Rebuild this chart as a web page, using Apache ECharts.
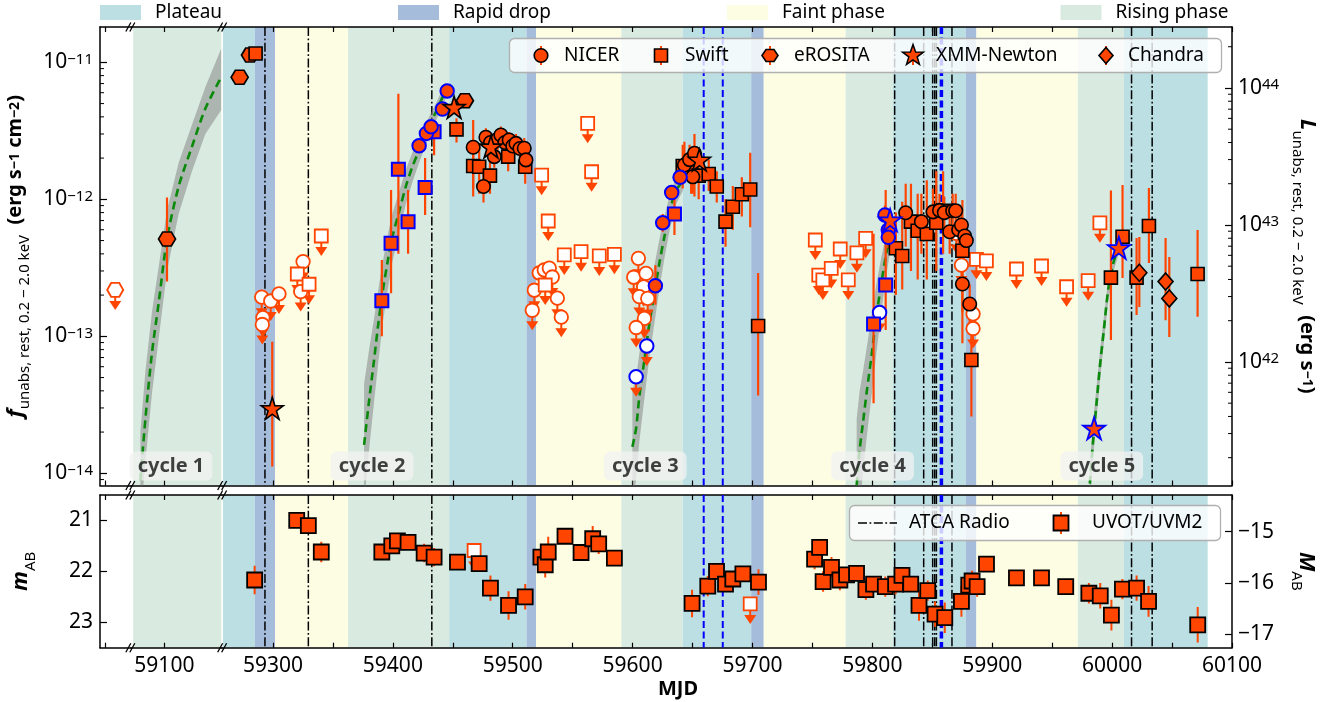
<!DOCTYPE html>
<html><head><meta charset="utf-8">
<script src="https://cdn.jsdelivr.net/npm/echarts@6.0.0/dist/echarts.min.js"></script>
<style>html,body{margin:0;padding:0;background:#fff}#c{width:1344px;height:702px}</style>
</head><body><div id="c"></div><script>
// ---------------- DATA ----------------
const phaseStart = [59074.0, 59257.6, 59285.0, 59301.7, 59362.6, 59447.0, 59511.5, 59519.4, 59590.6, 59641.8, 59698.9, 59709.4, 59777.7, 59817.2, 59877.9, 59886.8, 59971.4, 60009.8];
const phaseEnd   = [59148.2, 59285.0, 59301.7, 59362.6, 59447.0, 59511.5, 59519.4, 59590.6, 59641.8, 59698.9, 59709.4, 59777.7, 59817.2, 59877.9, 59886.8, 59971.4, 60009.8, 60079.7];
const phaseType  = ['rising','plateau','drop','faint','rising','plateau','drop','faint','rising','plateau','drop','faint','rising','plateau','drop','faint','rising','plateau'];
const phaseNames = ['Plateau','Rapid drop','Faint phase','Rising phase'];
const atcaMJD = [59293.3, 59329.5, 59432.5, 59818.6, 59842.8, 59850.3, 59852.0, 59853.4, 59866.4, 60016.2, 60033.4];
const blueDashMJD = [59659.3, 59675.2];
const blueThickMJD = [59857.6];
const xTickValues = [58900, 59100, 59300, 59350, 59400, 59450, 59500, 59550, 59600, 59650, 59700, 59750, 59800, 59850, 59900, 59950, 60000, 60050, 60100];
const xLabelValues = [59100, 59300, 59400, 59500, 59600, 59700, 59800, 59900, 60000, 60100];
const magTicks = [21, 22, 23];
const absMagTicks = [-17, -16, -15];
const nicerDet = [
 [59467.0,2.40e-12,1.05e-12,3.8e-12],[59475.6,1.24e-12,0.95e-12,1.6e-12],[59477.6,2.84e-12,2.4e-12,3.3e-12],
 [59481.5,2.6e-12,2.2e-12,3.0e-12],[59484.6,2.05e-12,1.7e-12,2.5e-12],[59487.5,2.75e-12,2.3e-12,3.2e-12],
 [59490.1,2.95e-12,2.5e-12,3.4e-12],[59493.5,2.6e-12,2.2e-12,3.0e-12],[59497.0,2.71e-12,2.3e-12,3.1e-12],
 [59500.0,2.45e-12,2.1e-12,2.85e-12],[59502.7,2.56e-12,2.2e-12,3.0e-12],[59506.0,2.35e-12,2.0e-12,2.75e-12],
 [59509.6,2.36e-12,2.0e-12,2.8e-12],[59511.0,1.94e-12,1.6e-12,2.3e-12],
 [59643.2,1.78e-12,1.31e-12,2.63e-12],[59647.5,1.95e-12,1.5e-12,2.5e-12],[59650.2,1.46e-12,1.1e-12,1.9e-12],[59651.6,2.17e-12,1.05e-12,3.0e-12],
 [59827.8,7.98e-13,4.5e-13,1.3e-12],[59840.9,6.87e-13,4e-13,1.1e-12],[59850.6,8.1e-13,5e-13,1.2e-12],[59856.0,8.3e-13,6e-13,1.1e-12],
 [59860.0,8.0e-13,6e-13,1.05e-12],[59864.5,5.8e-13,4e-13,8e-13],[59867.0,8.26e-13,6e-13,1.1e-12],[59869.5,8.26e-13,6e-13,1.1e-12],
 [59872.0,6.0e-13,4.5e-13,8e-13],[59874.3,6.49e-13,5e-13,8.5e-13],[59877.0,5.4e-13,4e-13,7e-13],[59878.4,5.0e-13,3.8e-13,6.5e-13],
 [59875.1,2.41e-13,1.5e-13,3.5e-13],[59881.2,1.72e-13,1.1e-13,2.4e-13]
];
const nicerRise = [
 [59421.9,2.46e-12,2.2e-12,2.7e-12],[59428.0,3.03e-12,2.7e-12,3.4e-12],[59431.9,3.39e-12,3.0e-12,3.8e-12],[59441.4,4.56e-12,4.1e-12,5.0e-12],[59445.3,6.18e-12,5.6e-12,6.8e-12],
 [59619.0,2.34e-13,1.7e-13,3.3e-13],[59625.1,6.74e-13,5.8e-13,7.8e-13],[59632.6,1.12e-12,1.0e-12,1.25e-12],[59639.6,1.45e-12,1.3e-12,1.6e-12],
 [59810.5,7.67e-13,6.5e-13,9e-13],[59813.3,5.97e-13,5e-13,7e-13],[59813.3,5.28e-13,4.4e-13,6.3e-13]
];
const nicerUL = [
 [59290.6,1.93e-13],[59291.6,1.37e-13],[59291.1,1.22e-13],[59298.1,1.81e-13],[59305.0,2.04e-13],[59325.1,3.51e-13],[59323.1,2.12e-13],
 [59516.3,1.55e-13],[59518.0,2.17e-13],[59522.1,2.9e-13],[59526.3,3.05e-13],[59530.5,3.15e-13],[59533.0,2.71e-13],[59537.2,1.9e-13],[59540.5,1.38e-13],
 [59604.8,3.71e-13],[59600.9,2.7e-13],[59611.2,2.88e-13],[59609.2,2.3e-13],[59605.6,1.95e-13],[59612.6,1.89e-13],[59609.8,1.35e-13],[59603.0,1.16e-13],
 [59870.0,5.64e-13],[59874.3,3.31e-13],[59884.0,1.46e-13],[59884.0,1.14e-13]
];
const nicerULRise = [[59602.9,5.07e-14],[59611.8,8.49e-14],[59806.0,1.49e-13]];
const swiftDet = [
 [59285.5,1.16e-11,1.1e-11,1.22e-11],
 [59453.1,3.24e-12,2.6e-12,3.9e-12],[59467.0,1.75e-12,1.2e-12,2.3e-12],[59472.0,1.73e-12,1.1e-12,2.5e-12],[59481.0,1.49e-12,1.1e-12,2.0e-12],[59496.2,2.05e-12,1.6e-12,2.6e-12],[59510.4,1.73e-12,1.3e-12,2.3e-12],
 [59641.8,1.75e-12,1.2e-12,2.5e-12],[59648.8,1.59e-12,1.1e-12,2.3e-12],[59655.1,1.49e-12,1.0e-12,2.1e-12],[59663.5,1.53e-12,1.15e-12,1.95e-12],[59670.2,1.24e-12,0.95e-12,1.6e-12],
 [59677.5,6.87e-13,4.5e-13,1.0e-12],[59683.6,8.83e-13,6e-13,1.25e-12],[59691.1,1.09e-12,7.5e-13,1.45e-12],[59698.1,1.18e-12,6.25e-13,2.19e-12],[59704.7,1.19e-13,3.7e-14,2.9e-13],
 [59819.6,4.39e-13,2e-13,8e-13],[59824.9,3.86e-13,2.2e-13,9.6e-13],[59832.2,6.87e-13,3e-13,1.3e-12],[59837.8,5.9e-13,2.6e-13,1.1e-12],[59845.4,5.58e-13,2.6e-13,1.38e-12],
 [59853.3,6.75e-13,3e-13,1.6e-12],[59859.0,8.26e-13,4e-13,1.6e-12],[59875.1,4.21e-13,8.9e-14,9.9e-13],[59882.6,6.71e-14,2.6e-14,1.11e-13],
 [59999.0,2.68e-13,9.4e-14,1.16e-12],[60008.7,5.33e-13,2.66e-13,1.27e-12],[60020.4,2.68e-13,1.43e-13,5.23e-13],[60030.7,6.38e-13,3.43e-13,1.21e-12],[60071.3,2.85e-13,1.39e-13,5.97e-13]
];
const swiftRise = [
 [59390.8,1.82e-13,1.0e-13,3.6e-13],[59398.5,4.77e-13,2.06e-13,1.17e-12],[59404.6,1.66e-12,4.0e-13,5.9e-12],[59412.7,6.87e-13,4.0e-13,1.17e-12],[59426.9,1.22e-12,7.7e-13,2.0e-12],[59434.4,3.11e-12,2.1e-12,3.8e-12],
 [59634.9,7.81e-13,5.5e-13,1.1e-12],
 [59801.0,1.23e-13,3.24e-14,5.6e-13],[59811.1,2.37e-13,1.11e-13,1.17e-12]
];
const swiftUL = [
 [59320.3,2.85e-13],[59330.1,2.4e-13],[59340.3,5.4e-13],
 [59524.1,1.5e-12],[59529.6,6.95e-13],[59527.1,2.37e-13],[59543.0,3.93e-13],[59557.0,4.15e-13],[59572.2,3.86e-13],[59584.8,3.97e-13],[59562.5,3.59e-12],[59565.8,1.59e-12],
 [59752.4,5.05e-13],[59755.3,2.8e-13],[59758.7,2.58e-13],[59765.7,3.13e-13],[59773.2,4.34e-13],[59779.9,2.58e-13],[59787.1,4.07e-13],[59794.4,5.19e-13],
 [59886.8,3.65e-13],[59895.1,3.55e-13],[59920.2,3.1e-13],[59941.1,3.26e-13],[59962.0,2.3e-13],[59980.0,2.55e-13],[59989.8,6.74e-13]
];
const erositaDet = [[59102.2,5.13e-13,2.51e-13,1.03e-12],[59272.2,7.78e-12,7.5e-12,8.1e-12],[59280.8,1.13e-11,1.09e-11,1.17e-11],[59460.1,5.25e-12,5.0e-12,5.5e-12]];
const erositaUL = [[58908.4,2.18e-13]];
const xmmDet = [[59299.4,2.98e-14,1.12e-14,9.14e-14],[59451.1,4.7e-12,4.5e-12,4.9e-12],[59481.8,2.42e-12,2.3e-12,2.55e-12],[59655.7,1.94e-12,1.85e-12,2.05e-12]];
const xmmRise = [[59814.8,7.06e-13,6.8e-13,7.3e-13],[59985.0,2.13e-14,2.0e-14,2.3e-14],[60005.6,4.43e-13,4.2e-13,4.7e-13]];
const chandraDet = [[60022.7,2.91e-13,1.64e-13,5.3e-13],[60044.6,2.51e-13,1.31e-13,5.23e-13],[60047.7,1.89e-13,9.9e-14,3.8e-13]];
const riseCycle1 = [[59080.0,8.9e-15,4.5e-15,2.0e-14],[59084.1,2.45e-14,1.2e-14,5.5e-14],[59089.6,7.5e-14,3.8e-14,1.5e-13],[59095.2,1.74e-13,9.5e-14,3.2e-13],[59102.2,5.1e-13,3.0e-13,8.3e-13],[59111.9,1.24e-12,7.8e-13,1.85e-12],[59123.0,2.42e-12,1.6e-12,3.5e-12],[59134.2,4.6e-12,3.0e-12,6.6e-12],[59147.6,7.85e-12,4.5e-12,1.27e-11]];
const riseCycle2 = [[59376.0,1.61e-14,6e-15,4.5e-14],[59380.2,3.41e-14,1.5e-14,8e-14],[59384.3,6.68e-14,3.3e-14,1.35e-13],[59387.9,1.24e-13,6.5e-14,2.2e-13],[59391.3,2.06e-13,1.2e-13,3.4e-13],[59395.4,3.41e-13,2.1e-13,5.3e-13],[59399.6,5.33e-13,3.5e-13,7.9e-13],[59405.2,8.11e-13,5.7e-13,1.13e-12],[59410.8,1.24e-12,9.2e-13,1.65e-12],[59416.3,1.73e-12,1.33e-12,2.2e-12],[59421.9,2.29e-12,1.85e-12,2.85e-12],[59428.9,3.21e-12,2.7e-12,3.8e-12],[59435.9,4.35e-12,3.75e-12,5.0e-12],[59444.2,6.28e-12,5.5e-12,7.2e-12]];
const riseCycle3 = [[59599.8,1.56e-14,6e-15,4e-14],[59602.9,2.13e-14,9e-15,5e-14],[59605.6,3.62e-14,1.7e-14,7.5e-14],[59609.8,6.71e-14,3.5e-14,1.25e-13],[59614.0,1.24e-13,7e-14,2.1e-13],[59618.2,2.06e-13,1.25e-13,3.3e-13],[59622.3,3.41e-13,2.2e-13,5.1e-13],[59626.5,5.33e-13,3.7e-13,7.5e-13],[59631.3,8.35e-13,6.2e-13,1.1e-12],[59636.3,1.17e-12,9.3e-13,1.45e-12],[59641.8,1.34e-12,1.15e-12,1.6e-12]];
const riseCycle4 = [[59786.9,8.2e-15,3e-15,2.5e-14],[59789.4,1.48e-14,5.5e-15,4e-14],[59792.1,2.32e-14,1e-14,5.5e-14],[59795.5,4.06e-14,1.9e-14,8.5e-14],[59799.2,7.1e-14,3.6e-14,1.4e-13],[59803.3,1.39e-13,7.5e-14,2.4e-13],[59807.5,2.44e-13,1.5e-13,3.8e-13],[59811.1,3.81e-13,2.6e-13,5.4e-13],[59814.5,5.33e-13,4.0e-13,6.8e-13]];
const riseCycle5 = [[59981.4,8.4e-15,6e-15,1.2e-14],[59984.2,1.75e-14,1.3e-14,2.4e-14],[59987.0,3.24e-14,2.5e-14,4.3e-14],[59989.8,6.0e-14,4.7e-14,7.7e-14],[59993.1,1.11e-13,9e-14,1.38e-13],[59996.7,2.18e-13,1.8e-13,2.6e-13],[60000.9,3.41e-13,2.95e-13,3.9e-13],[60005.6,4.51e-13,4.0e-13,5.0e-13]];
const cycleNames = ['cycle 1','cycle 2','cycle 3','cycle 4','cycle 5'];
const cycleMJD = [59105.5, 59382.7, 59610.6, 59800.2, 59991.4];
const cycleLabelFlux = 1.13e-14;
const uvotDet = [
 [59284.7,22.17,0.28],[59319.8,21.00,0.1],[59329.5,21.10,0.1],[59340.3,21.62,0.2],[59390.8,21.62,0.1],[59399.1,21.50,0.12],[59403.8,21.40,0.15],[59412.7,21.43,0.15],
 [59426.1,21.64,0.18],[59434.4,21.72,0.18],[59453.9,21.82,0.15],[59472.0,21.85,0.15],[59481.4,22.33,0.25],[59496.5,22.67,0.28],[59510.4,22.50,0.25],
 [59523.5,21.72,0.15],[59527.1,21.87,0.25],[59529.6,21.62,0.3],[59543.6,21.31,0.15],[59557.0,21.63,0.15],[59566.7,21.36,0.25],[59571.7,21.46,0.2],[59584.8,21.74,0.15],
 [59649.6,22.63,0.27],[59662.7,22.29,0.2],[59670.0,22.00,0.15],[59677.5,22.25,0.15],[59683.6,22.15,0.15],[59692.0,22.05,0.12],[59705.0,22.21,0.25],
 [59751.8,21.76,0.2],[59756.0,21.53,0.15],[59758.9,22.20,0.2],[59765.9,21.92,0.2],[59772.9,22.17,0.2],[59778.5,22.07,0.15],[59786.8,22.04,0.15],[59794.6,22.36,0.2],
 [59801.0,22.25,0.15],[59810.8,22.30,0.2],[59819.4,22.25,0.2],[59824.7,22.08,0.15],[59832.0,22.25,0.15],[59838.9,22.67,0.3],[59846.2,22.38,0.2],[59852.3,22.84,0.25],
 [59860.4,22.91,0.3],[59874.3,22.59,0.3],[59880.4,22.27,0.2],[59883.2,22.19,0.2],[59887.4,22.30,0.2],[59895.2,21.86,0.1],[59920.2,22.13,0.15],[59941.1,22.13,0.13],
 [59961.3,22.30,0.15],[59980.6,22.43,0.2],[59990.1,22.48,0.25],[59999.4,22.86,0.3],[60008.6,22.35,0.2],[60020.4,22.33,0.25],[60030.4,22.59,0.3],[60071.4,23.05,0.35]
];
const uvotUL = [[59467.8,21.59],[59698.1,22.64]];

// ---------------- STYLE / AXES ----------------
const FONT = 'Noto Sans';
const ORANGE = '#ff4500', BLUE = '#0000ff';
const PHASE_COLORS = {plateau:'#bbdfe3', drop:'#a5bddb', faint:'#fdfde4', rising:'#d9ebe0'};
const X_MIN = 58895.7, X_MAX = 60100;
const xBreaks = [{start:58921, end:59071.6, gap:0}, {start:59148.2, end:59257.6, gap:0}];
const Y_MIN = Math.pow(10, -14.089), Y_MAX = Math.pow(10, -10.742);
const L_FACTOR = Math.pow(10, 55.187);
const STAR = 'path://M0,-1L0.2245,-0.309L0.951,-0.309L0.363,0.118L0.588,0.809L0,0.382L-0.588,0.809L-0.363,0.118L-0.951,-0.309L-0.2245,-0.309Z';
const HEX = 'path://M-1,0L-0.5,-0.866L0.5,-0.866L1,0L0.5,0.866L-0.5,0.866Z';

const logRich = {
  b: {fontSize: 21, lineHeight: 21, padding: [7,0,0,0], verticalAlign: 'bottom', fontFamily: FONT, color: '#000'},
  s: {fontSize: 15, lineHeight: 15, verticalAlign: 'top', fontFamily: FONT, color: '#000'}
};
function logFmt(v) {
  const e = Math.log10(v), r = Math.round(e);
  if (Math.abs(e - r) > 1e-3) return '';
  return '{b|10}{s|' + (r < 0 ? '\u2212' : '') + Math.abs(r) + '}';
}
const titleRich = {
  i: {fontSize: 22, fontStyle: 'italic', fontWeight: 'bold', lineHeight: 24, padding: [4,0,6,0], verticalAlign: 'bottom', fontFamily: FONT, color: '#000'},
  n: {fontSize: 20, fontWeight: 'bold', lineHeight: 22, padding: [5,0,7,0], verticalAlign: 'bottom', fontFamily: FONT, color: '#000'},
  sub: {fontSize: 15, lineHeight: 15, verticalAlign: 'bottom', fontFamily: FONT, color: '#000'},
  sup: {fontSize: 14, fontWeight: 'bold', lineHeight: 14, verticalAlign: 'top', fontFamily: FONT, color: '#000'}
};

function xAxisCfg(grid, pos, showLabels) {
  return {
    type: 'value', gridIndex: grid, position: pos, min: X_MIN, max: X_MAX,
    breaks: xBreaks.map(b => Object.assign({}, b)),
    breakArea: {show: false, expandOnClick: false},
    axisLine: {show: true, onZero: false, lineStyle: {color: '#000', width: 1.5}},
    axisTick: {show: true, inside: true, length: 5, lineStyle: {color: '#000', width: 1.2}, customValues: xTickValues},
    axisLabel: {show: showLabels, customValues: xLabelValues, margin: 8, fontSize: 21, color: '#000', fontFamily: FONT, formatter: v => String(v)},
    splitLine: {show: false}
  };
}

// ---------------- SERIES HELPERS ----------------
function phaseSeries(xi, yi, yRef) {
  return {type: 'custom', xAxisIndex: xi, yAxisIndex: yi, z: 0, silent: true, clip: true,
    data: phaseStart.map((s, i) => [s, phaseEnd[i]]), encode: {x: [0, 1]},
    renderItem: (params, api) => {
      const cs = params.coordSys;
      const x0 = api.coord([api.value(0), yRef])[0], x1 = api.coord([api.value(1), yRef])[0];
      return {type: 'rect', shape: {x: x0, y: cs.y, width: x1 - x0, height: cs.height},
        style: {fill: PHASE_COLORS[phaseType[params.dataIndex]]}};
    }};
}
function vlineSeries(xi, yi, yRef, values, color, width, dash) {
  return {type: 'custom', xAxisIndex: xi, yAxisIndex: yi, z: 1, silent: true, clip: true,
    data: values.map(v => [v]), encode: {x: 0},
    renderItem: (params, api) => {
      const cs = params.coordSys;
      const x = api.coord([api.value(0), yRef])[0];
      return {type: 'line', shape: {x1: x, y1: cs.y, x2: x, y2: cs.y + cs.height},
        style: {stroke: color, lineWidth: width, lineDash: dash}};
    }};
}
function bandSeries(curve) {
  return {type: 'custom', xAxisIndex: 0, yAxisIndex: 0, z: 2, silent: true, clip: true,
    data: [[curve[0][0], curve[0][1]]], encode: {x: 0, y: 1},
    renderItem: (params, api) => {
      const up = curve.map(d => api.coord([d[0], d[3]]));
      const lo = curve.map(d => api.coord([d[0], d[2]])).reverse();
      return {type: 'polygon', shape: {points: up.concat(lo)}, style: {fill: 'rgba(128,128,128,0.5)'}};
    }};
}
function curveSeries(curve) {
  return {type: 'line', xAxisIndex: 0, yAxisIndex: 0, z: 3, silent: true, showSymbol: false, smooth: 0.3,
    lineStyle: {color: '#0a8a0a', width: 2.6, type: [8, 5]}, data: curve.map(d => [d[0], d[1]])};
}
function errSeries(data, xi, yi, width) {
  return {type: 'custom', xAxisIndex: xi, yAxisIndex: yi, z: 4, silent: true, clip: true,
    data: data, encode: {x: 0, y: [1, 2]},
    renderItem: (params, api) => {
      const p1 = api.coord([api.value(0), api.value(1)]), p2 = api.coord([api.value(0), api.value(2)]);
      return {type: 'line', shape: {x1: p1[0], y1: p1[1], x2: p2[0], y2: p2[1]}, style: {stroke: ORANGE, lineWidth: width}};
    }};
}
function arrowSeries(data, xi, yi) {
  return {type: 'custom', xAxisIndex: xi, yAxisIndex: yi, z: 5, silent: true, clip: true,
    data: data.map(d => [d[0], d[1]]), encode: {x: 0, y: 1},
    renderItem: (params, api) => {
      const p = api.coord([api.value(0), api.value(1)]);
      return {type: 'group', children: [
        {type: 'line', shape: {x1: p[0], y1: p[1], x2: p[0], y2: p[1] + 13}, style: {stroke: ORANGE, lineWidth: 2}},
        {type: 'polygon', shape: {points: [[p[0] - 6, p[1] + 11], [p[0] + 6, p[1] + 11], [p[0], p[1] + 20]]}, style: {fill: ORANGE}}
      ]};
    }};
}
function scat(data, sym, size, fill, edge, bw, xi, yi, z) {
  return {type: 'scatter', xAxisIndex: xi, yAxisIndex: yi, symbol: sym, symbolSize: size, z: z || 6, silent: true,
    itemStyle: {color: fill, borderColor: edge, borderWidth: bw, opacity: 1}, data: data.map(d => [d[0], d[1]])};
}
const withErr = arr => arr.filter(d => d.length > 3).map(d => [d[0], d[2], d[3]]);
function minorTickSeries(yi, decades, side) {
  const vals = [];
  decades.forEach(dd => { for (let k = 2; k <= 9; k++) vals.push([59300, k * Math.pow(10, dd)]); });
  return {type: 'custom', xAxisIndex: 0, yAxisIndex: yi, z: 9, silent: true, clip: false,
    data: vals, encode: {x: 0, y: 1},
    renderItem: (params, api) => {
      const cs = params.coordSys;
      const y = api.coord([api.value(0), api.value(1)])[1];
      if (y < cs.y || y > cs.y + cs.height) return null;
      const x = side === 'left' ? cs.x : cs.x + cs.width;
      const dx = side === 'left' ? 4 : -4;
      return {type: 'line', shape: {x1: x, y1: y, x2: x + dx, y2: y}, style: {stroke: '#000', lineWidth: 1}};
    }};
}
function breakMarkSeries(xi, yi, yRef) {
  return {type: 'custom', xAxisIndex: xi, yAxisIndex: yi, z: 20, silent: true, clip: false,
    data: xBreaks.map(b => [b.start]), encode: {x: 0},
    renderItem: (params, api) => {
      const cs = params.coordSys;
      const x = api.coord([api.value(0), yRef])[0];
      const ch = [];
      if (params.dataIndex === 1) ch.push({type: 'rect', shape: {x: x - 0.8, y: cs.y + 1, width: 1.6, height: cs.height - 2}, style: {fill: '#fff'}});
      [cs.y, cs.y + cs.height].forEach(y => {
        [-2, 2].forEach(o => ch.push({type: 'line', shape: {x1: x + o - 2.5, y1: y + 4.5, x2: x + o + 2.5, y2: y - 4.5}, style: {stroke: '#000', lineWidth: 1.3}}));
      });
      return {type: 'group', children: ch};
    }};
}

// ---------------- OPTION ----------------
const series = [];
series.push(phaseSeries(0, 0, 1e-12));
series.push(vlineSeries(0, 0, 1e-12, atcaMJD, '#000', 1.5, [9, 2.5, 1.8, 2.5]));
series.push(vlineSeries(0, 0, 1e-12, blueDashMJD, BLUE, 2, [7, 3.5]));
series.push(vlineSeries(0, 0, 1e-12, blueThickMJD, BLUE, 3.5, [7, 3.5]));
[riseCycle1, riseCycle2, riseCycle3, riseCycle4, riseCycle5].forEach(c => { series.push(bandSeries(c)); series.push(curveSeries(c)); });
[nicerDet, nicerRise, swiftDet, swiftRise, erositaDet, xmmDet, chandraDet].forEach(a => series.push(errSeries(withErr(a), 0, 0, 2.2)));
series.push(arrowSeries(nicerUL.concat(nicerULRise, swiftUL, erositaUL), 0, 0));
series.push(scat(nicerUL, 'circle', 13.5, '#fff', ORANGE, 1.8, 0, 0));
series.push(scat(nicerULRise, 'circle', 13.5, '#fff', BLUE, 2, 0, 0));
series.push(scat(swiftUL, 'rect', 13, '#fff', ORANGE, 1.8, 0, 0));
series.push(scat(erositaUL, HEX, [16, 14], '#fff', ORANGE, 1.8, 0, 0));
series.push(scat(erositaDet, HEX, [17, 14], ORANGE, '#000', 1.6, 0, 0));
series.push(scat(swiftDet, 'rect', 13, ORANGE, '#000', 1.6, 0, 0));
series.push(scat(nicerDet, 'circle', 13.5, ORANGE, '#000', 1.6, 0, 0));
series.push(scat(swiftRise, 'rect', 13, ORANGE, BLUE, 2, 0, 0));
series.push(scat(nicerRise, 'circle', 13.5, ORANGE, BLUE, 2, 0, 0));
series.push(scat(xmmDet, STAR, 22, ORANGE, '#000', 1.6, 0, 0));
series.push(scat(xmmRise, STAR, 22, ORANGE, BLUE, 1.8, 0, 0));
series.push(scat(chandraDet, 'diamond', [15, 17], ORANGE, '#000', 1.6, 0, 0));
series.push(minorTickSeries(0, [-15, -14, -13, -12, -11], 'left'));
series.push(minorTickSeries(1, [41, 42, 43, 44], 'right'));
series.push({type: 'scatter', xAxisIndex: 0, yAxisIndex: 0, z: 10, silent: true, symbolSize: 1, itemStyle: {color: 'rgba(0,0,0,0)'},
  data: cycleNames.map((n, i) => ({name: n, value: [cycleMJD[i], cycleLabelFlux]})),
  label: {show: true, position: 'inside', formatter: '{b}', fontFamily: FONT, fontSize: 20, fontWeight: 'bold', color: '#111',
    backgroundColor: 'rgba(242,242,242,0.96)', borderRadius: 6, padding: [5, 8, 4, 8]}});
series.push(breakMarkSeries(0, 0, 1e-12));
series.push(phaseSeries(2, 2, 22));
series.push(vlineSeries(2, 2, 22, atcaMJD, '#000', 1.5, [9, 2.5, 1.8, 2.5]));
series.push(vlineSeries(2, 2, 22, blueDashMJD, BLUE, 2, [7, 3.5]));
series.push(vlineSeries(2, 2, 22, blueThickMJD, BLUE, 3.5, [7, 3.5]));
series.push(errSeries(uvotDet.map(d => [d[0], d[1] - d[2], d[1] + d[2]]), 2, 2, 2));
series.push(arrowSeries(uvotUL, 2, 2));
series.push(scat(uvotUL, 'rect', 13, '#fff', ORANGE, 1.8, 2, 2));
series.push(scat(uvotDet, 'rect', 15, ORANGE, '#000', 1.8, 2, 2));
series.push(breakMarkSeries(2, 2, 22));

const yAxisCommon = {
  axisLine: {show: true, onZero: false, lineStyle: {color: '#000', width: 1.5}},
  splitLine: {show: false}
};
const option = {
  animation: false,
  backgroundColor: '#fff',
  textStyle: {fontFamily: FONT},
  grid: [
    {left: 100, top: 27, width: 1132, height: 458.5, containLabel: false, outerBoundsMode: 'none'},
    {left: 100, top: 495, width: 1132, height: 152.7, containLabel: false, outerBoundsMode: 'none'}
  ],
  xAxis: [
    xAxisCfg(0, 'bottom', false),
    xAxisCfg(0, 'top', false),
    Object.assign(xAxisCfg(1, 'bottom', true), {name: 'MJD', nameLocation: 'middle', nameGap: 32,
      nameTextStyle: {fontFamily: FONT, fontSize: 20, fontWeight: 'bold', color: '#000', padding: [0, 0, 0, 24]}}),
    xAxisCfg(1, 'top', false)
  ],
  yAxis: [
    Object.assign({type: 'log', logBase: 10, gridIndex: 0, position: 'left', min: Y_MIN, max: Y_MAX,
      axisTick: {show: true, inside: true, length: 7, lineStyle: {color: '#000', width: 1.2}},
      axisLabel: {margin: 7, formatter: logFmt, rich: logRich, showMinLabel: false, showMaxLabel: false},
      name: '{i|f}{sub|unabs, rest, 0.2 \u2212 2.0 keV}{n|  (erg s}{sup|\u22121}{n| cm}{sup|\u22122}{n|)}',
      nameLocation: 'middle', nameRotate: 90, nameGap: 62, nameTextStyle: {rich: titleRich}}, yAxisCommon),
    Object.assign({type: 'log', logBase: 10, gridIndex: 0, position: 'right', min: Y_MIN * L_FACTOR, max: Y_MAX * L_FACTOR,
      axisTick: {show: true, inside: true, length: 7, lineStyle: {color: '#000', width: 1.2}},
      axisLabel: {margin: 6, formatter: logFmt, rich: logRich, showMinLabel: false, showMaxLabel: false},
      name: '{i|L}{sub|unabs, rest, 0.2 \u2212 2.0 keV}{n|  (erg s}{sup|\u22121}{n|)}',
      nameLocation: 'middle', nameRotate: -90, nameGap: 57, nameTextStyle: {rich: titleRich}}, yAxisCommon),
    Object.assign({type: 'value', gridIndex: 1, position: 'left', inverse: true, min: 20.5, max: 23.5,
      axisTick: {show: true, inside: true, length: 7, lineStyle: {color: '#000', width: 1.2}, customValues: magTicks},
      axisLabel: {margin: 7, fontSize: 21, color: '#000', fontFamily: FONT, customValues: magTicks},
      name: '{i|m}{sub|AB}', nameLocation: 'middle', nameRotate: 90, nameGap: 62, nameTextStyle: {rich: titleRich}}, yAxisCommon),
    Object.assign({type: 'value', gridIndex: 1, position: 'right', min: -17.268, max: -14.283,
      axisTick: {show: true, inside: true, length: 7, lineStyle: {color: '#000', width: 1.2}, customValues: absMagTicks},
      axisLabel: {margin: 6, fontSize: 21, color: '#000', fontFamily: FONT, customValues: absMagTicks,
        formatter: v => (v < 0 ? '\u2212' : '') + Math.abs(v)},
      name: '{i|M}{sub|AB}', nameLocation: 'middle', nameRotate: -90, nameGap: 57, nameTextStyle: {rich: titleRich}}, yAxisCommon)
  ],
  series: series,
  graphic: []
};

// ---------------- LEGENDS (graphic) ----------------
const g = option.graphic;
const phaseLegendX = [100, 398, 727, 1060.5];
const phaseLegendKeys = ['plateau', 'drop', 'faint', 'rising'];
phaseNames.forEach((n, i) => {
  g.push({type: 'rect', shape: {x: phaseLegendX[i], y: 5, width: 41, height: 15}, style: {fill: PHASE_COLORS[phaseLegendKeys[i]]}, z: 100});
  g.push({type: 'text', x: phaseLegendX[i] + 55, y: 13, style: {text: n, font: '19px "Noto Sans"', fill: '#000', verticalAlign: 'middle', align: 'left'}, z: 100});
});
g.push({type: 'rect', shape: {x: 509.5, y: 38.5, width: 712, height: 34, r: 5}, style: {fill: 'rgba(255,255,255,0.8)', stroke: '#b0b0b0', lineWidth: 1.3}, z: 100});
function legErr(x) { g.push({type: 'line', shape: {x1: x, y1: 46, x2: x, y2: 65}, style: {stroke: ORANGE, lineWidth: 2}, z: 101}); }
function legText(x, t) { g.push({type: 'text', x: x, y: 56, style: {text: t, font: '19px "Noto Sans"', fill: '#000', verticalAlign: 'middle'}, z: 102}); }
legErr(541); g.push({type: 'circle', shape: {cx: 541, cy: 55.5, r: 6.8}, style: {fill: ORANGE, stroke: '#000', lineWidth: 1.6}, z: 102}); legText(564, 'NICER');
legErr(661); g.push({type: 'rect', shape: {x: 654.5, y: 49, width: 13, height: 13}, style: {fill: ORANGE, stroke: '#000', lineWidth: 1.6}, z: 102}); legText(685, 'Swift');
legErr(770); g.push({type: 'polygon', shape: {points: [[762, 55.5], [766, 49.5], [774, 49.5], [778, 55.5], [774, 61.5], [766, 61.5]]}, style: {fill: ORANGE, stroke: '#000', lineWidth: 1.6}, z: 102}); legText(794, 'eROSITA');
(function () {
  const cx = 913, cy = 55.5, R = 11, r = 4.4, pts = [];
  for (let k = 0; k < 10; k++) { const a = -Math.PI / 2 + k * Math.PI / 5, rr = k % 2 ? r : R; pts.push([cx + rr * Math.cos(a), cy + rr * Math.sin(a)]); }
  legErr(913); g.push({type: 'polygon', shape: {points: pts}, style: {fill: ORANGE, stroke: '#000', lineWidth: 1.5}, z: 102});
})();
legText(936, 'XMM-Newton');
legErr(1106); g.push({type: 'polygon', shape: {points: [[1106, 47.5], [1113, 55.5], [1106, 63.5], [1099, 55.5]]}, style: {fill: ORANGE, stroke: '#000', lineWidth: 1.6}, z: 102}); legText(1128, 'Chandra');
g.push({type: 'rect', shape: {x: 849.5, y: 505.5, width: 371, height: 35, r: 5}, style: {fill: 'rgba(255,255,255,0.8)', stroke: '#b0b0b0', lineWidth: 1.3}, z: 100});
g.push({type: 'line', shape: {x1: 858, y1: 523, x2: 897, y2: 523}, style: {stroke: '#000', lineWidth: 1.5, lineDash: [9, 2.5, 1.8, 2.5]}, z: 101});
g.push({type: 'text', x: 909, y: 523, style: {text: 'ATCA Radio', font: '19px "Noto Sans"', fill: '#000', verticalAlign: 'middle'}, z: 102});
g.push({type: 'line', shape: {x1: 1061, y1: 512, x2: 1061, y2: 534}, style: {stroke: ORANGE, lineWidth: 2}, z: 101});
g.push({type: 'rect', shape: {x: 1053.5, y: 515.5, width: 15, height: 15}, style: {fill: ORANGE, stroke: '#000', lineWidth: 1.8}, z: 102});
g.push({type: 'text', x: 1092, y: 523, style: {text: 'UVOT/UVM2', font: '19px "Noto Sans"', fill: '#000', verticalAlign: 'middle'}, z: 102});

const chart = echarts.init(document.getElementById('c'), null, {renderer: 'canvas', width: 1344, height: 702});
chart.setOption(option);
</script></body></html>
